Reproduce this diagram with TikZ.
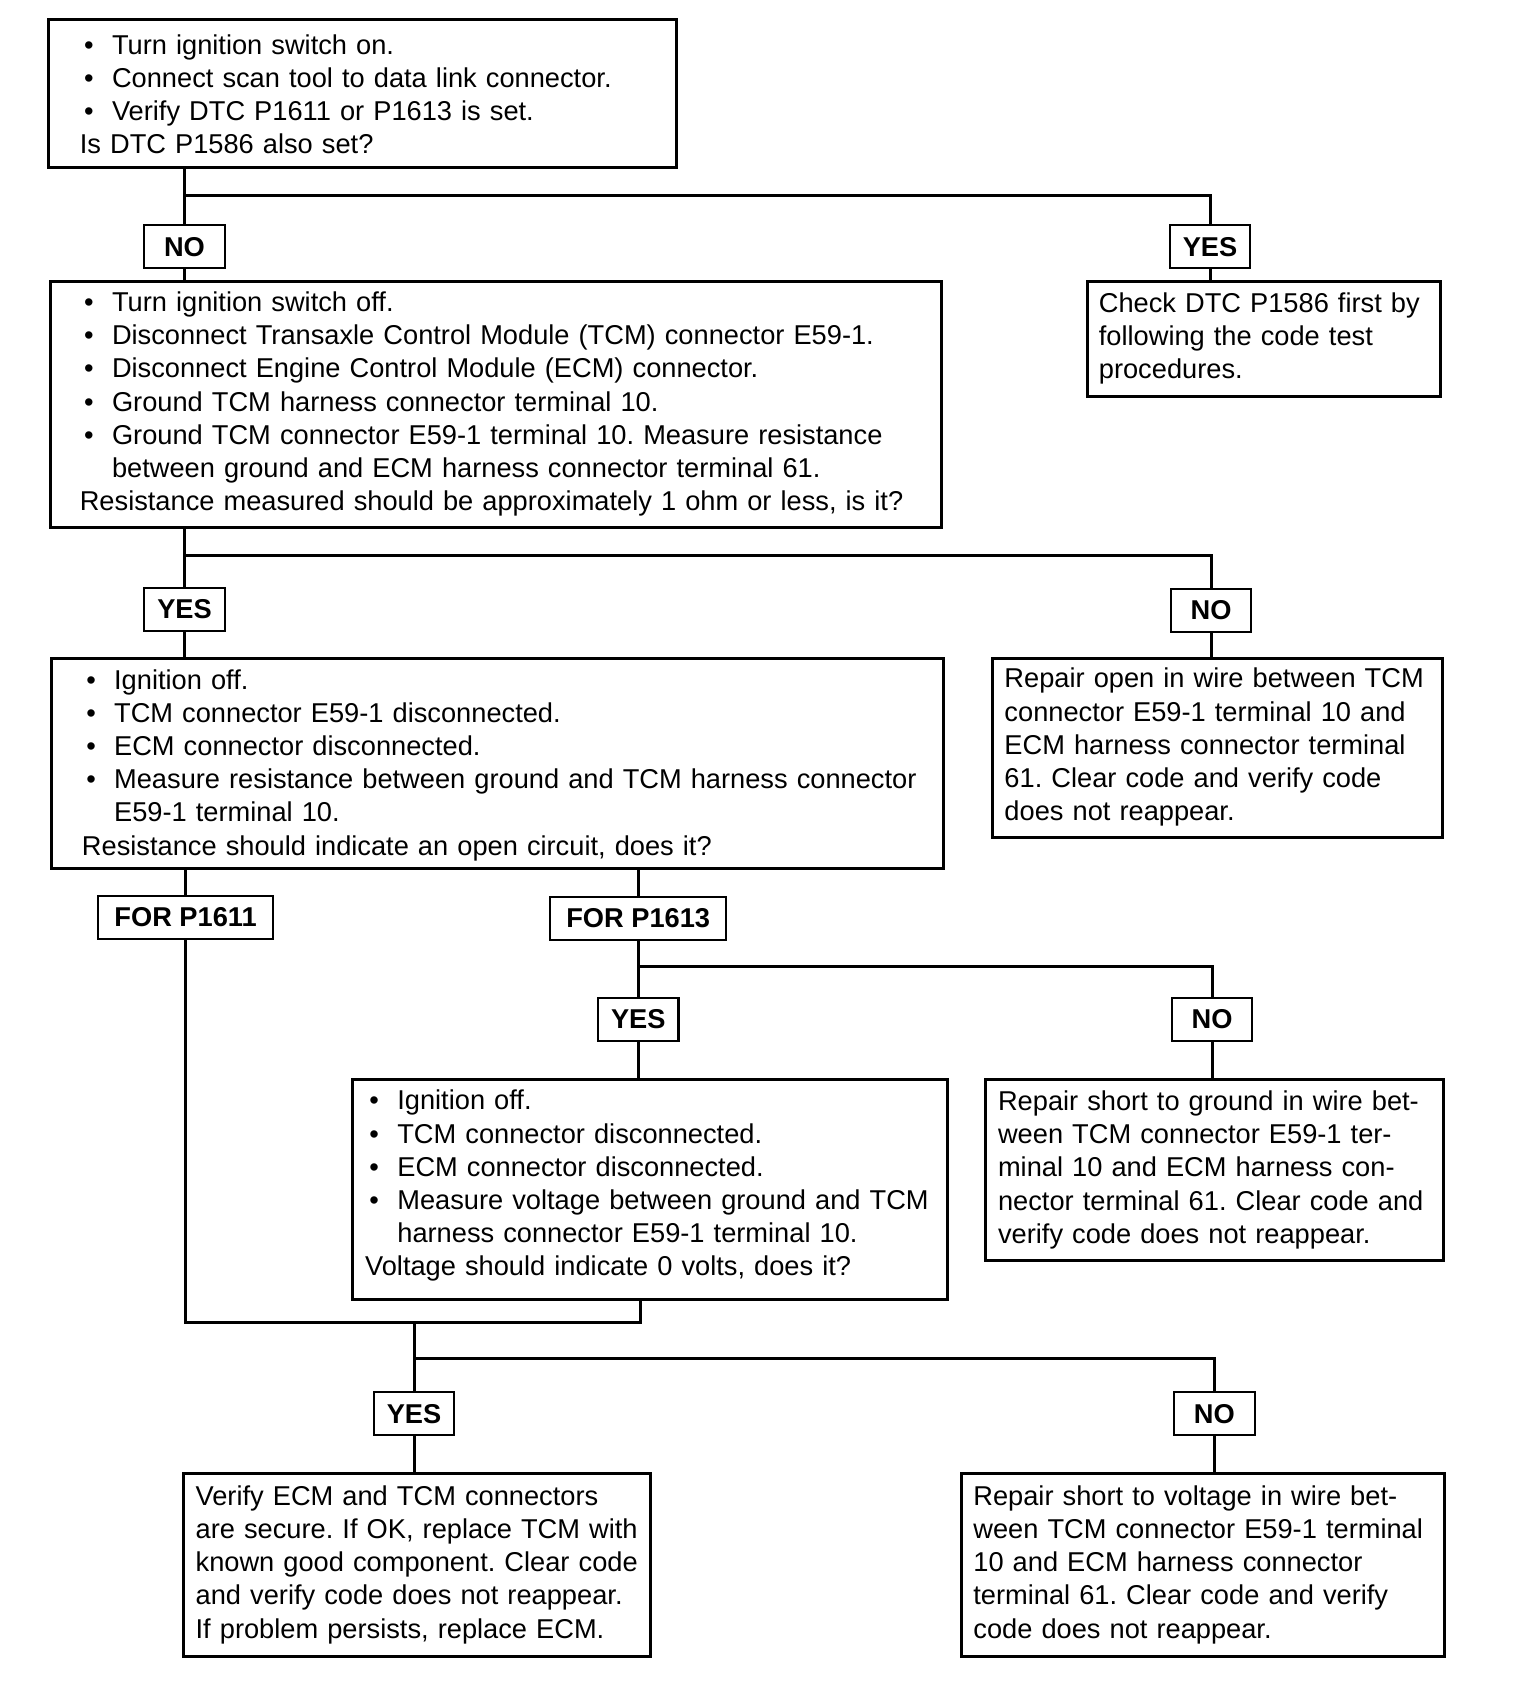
\documentclass[tikz,border=0pt]{standalone}
\usepackage{fontspec}
\setmainfont{Liberation Sans}
\usepackage{tikz}
\usetikzlibrary{positioning,calc}

\frenchspacing
\newcommand{\bl}{\makebox[0.30cm][l]{\hspace{0.04cm}\textbullet}}
\newcommand{\hang}{\hspace*{0.30cm}}

\begin{document}
\begin{tikzpicture}[
  x=0.01cm, y=-0.01cm,
  txt/.style={font=\fontsize{7.22}{8.8}\selectfont},
  stepbox/.style={txt, draw, line width=0.8pt, anchor=north west, align=left, inner ysep=0pt},
  lbl/.style={txt, draw, line width=0.55pt, font=\fontsize{7.22}{8.8}\selectfont\bfseries, minimum width=0.75cm, minimum height=0.40cm, inner sep=0pt},
  forlbl/.style={lbl, minimum width=1.63cm},
  wire/.style={line width=0.8pt}
]
\useasboundingbox (0,0) rectangle (1432,1568);

% First check
\node[stepbox, inner xsep=0.29cm, text width=5.27cm, minimum height=1.38cm] (b1) at (44,17) {%
\begin{tabular}{@{}l@{}}
\rule{0pt}{0.28cm}\bl Turn ignition switch on.\\
\bl Connect scan tool to data link connector.\\
\bl Verify DTC P1611 or P1613 is set.\\
Is DTC P1586 also set?
\end{tabular}};

\node[lbl] (no1) at (172,230) {NO};
\node[lbl] (yes1) at (1128,230) {YES};

% Ground test
\node[stepbox, inner xsep=0.27cm, text width=7.76cm, minimum height=2.29cm] (b2) at (46,261) {%
\begin{tabular}{@{}l@{}}
\bl Turn ignition switch off.\\
\bl Disconnect Transaxle Control Module (TCM) connector E59-1.\\
\bl Disconnect Engine Control Module (ECM) connector.\\
\bl Ground TCM harness connector terminal 10.\\
\bl Ground TCM connector E59-1 terminal 10. Measure resistance\\
\hang between ground and ECM harness connector terminal 61.\\
Resistance measured should be approximately 1 ohm or less, is it?
\end{tabular}};

\node[stepbox, inner xsep=0.11cm, text width=3.07cm, minimum height=1.07cm] (chk) at (1012,261) {%
\begin{tabular}{@{}l@{}}
Check DTC P1586 first by\\
following the code test\\
procedures.
\end{tabular}};

\node[lbl] (yes2) at (172,568) {YES};
\node[lbl] (no2) at (1129,569) {NO};

% Open circuit test
\node[stepbox, inner xsep=0.28cm, text width=7.75cm, minimum height=1.96cm] (b3) at (47,612) {%
\begin{tabular}{@{}l@{}}
\rule{0pt}{0.257cm}\bl Ignition off.\\
\bl TCM connector E59-1 disconnected.\\
\bl ECM connector disconnected.\\
\bl Measure resistance between ground and TCM harness connector\\
\hang E59-1 terminal 10.\\
Resistance should indicate an open circuit, does it?
\end{tabular}};

\node[stepbox, inner xsep=0.11cm, text width=3.97cm, minimum height=1.67cm] (opn) at (924,612) {%
\begin{tabular}{@{}l@{}}
Repair open in wire between TCM\\
connector E59-1 terminal 10 and\\
ECM harness connector terminal\\
61. Clear code and verify code\\
does not reappear.
\end{tabular}};

\node[forlbl] (f1611) at (173,855) {FOR P1611};
\node[forlbl, minimum width=1.64cm] (f1613) at (595,856) {FOR P1613};

\node[lbl] (yes3) at (595,950) {YES};
\node[lbl] (no3) at (1130,950) {NO};

% Voltage test
\node[stepbox, inner xsep=0.12cm, text width=5.31cm, minimum height=2.05cm] (b4) at (327,1005) {%
\begin{tabular}{@{}l@{}}
\bl Ignition off.\\
\bl TCM connector disconnected.\\
\bl ECM connector disconnected.\\
\bl Measure voltage between ground and TCM\\
\hang harness connector E59-1 terminal 10.\\
Voltage should indicate 0 volts, does it?\rule[-0.155cm]{0pt}{0.155cm}
\end{tabular}};

\node[stepbox, inner xsep=0.12cm, text width=4.03cm, minimum height=1.69cm] (sgnd) at (917,1005) {%
\begin{tabular}{@{}l@{}}
Repair short to ground in wire bet-\\
ween TCM connector E59-1 ter-\\
minal 10 and ECM harness con-\\
nector terminal 61. Clear code and\\
verify code does not reappear.
\end{tabular}};

\node[lbl] (yes4) at (386,1318) {YES};
\node[lbl] (no4) at (1132,1318) {NO};

% Final repairs
\node[stepbox, inner xsep=0.11cm, text width=4.13cm, minimum height=1.71cm] (rplc) at (170,1372) {%
\begin{tabular}{@{}l@{}}
Verify ECM and TCM connectors\\
are secure. If OK, replace TCM with\\
known good component. Clear code\\
and verify code does not reappear.\\
If problem persists, replace ECM.
\end{tabular}};

\node[stepbox, inner xsep=0.11cm, text width=4.28cm, minimum height=1.71cm] (svlt) at (895,1372) {%
\begin{tabular}{@{}l@{}}
Repair short to voltage in wire bet-\\
ween TCM connector E59-1 terminal\\
10 and ECM harness connector\\
terminal 61. Clear code and verify\\
code does not reappear.
\end{tabular}};

% Connectors
\coordinate (s1) at (172,182);
\coordinate (s2) at (172,518);
\coordinate (s3) at (595,901);
\coordinate (m) at (597,1233);
\coordinate (s4) at (386,1266);

\draw[wire] (b1.south -| s1) -- (no1.north);
\draw[wire] (s1) -| (yes1.north);
\draw[wire] (no1.south) -- (no1.south |- b2.north);
\draw[wire] (yes1.south) -- (yes1.south |- chk.north);

\draw[wire] (b2.south -| s2) -- (yes2.north);
\draw[wire] (s2) -| (no2.north);
\draw[wire] (yes2.south) -- (yes2.south |- b3.north);
\draw[wire] (no2.south) -- (no2.south |- opn.north);

\draw[wire] (b3.south -| f1611) -- (f1611.north);
\draw[wire] (b3.south -| f1613) -- (f1613.north);
\draw[wire] (f1613.south) -- (yes3.north);
\draw[wire] (s3) -| (no3.north);
\draw[wire] (yes3.south) -- (yes3.south |- b4.north);
\draw[wire] (no3.south) -- (no3.south |- sgnd.north);

\draw[wire] (f1611.south) |- (m) -- (m |- b4.south);
\draw[wire] (s4 |- m) -- (yes4.north);
\draw[wire] (s4) -| (no4.north);
\draw[wire] (yes4.south) -- (yes4.south |- rplc.north);
\draw[wire] (no4.south) -- (no4.south |- svlt.north);

\end{tikzpicture}
\end{document}
